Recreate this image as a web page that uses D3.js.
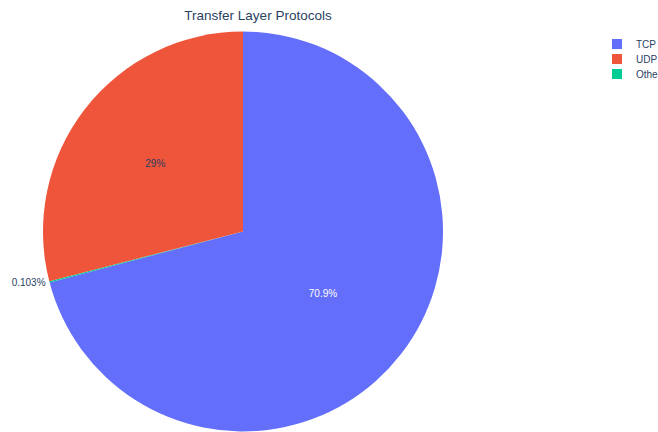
<!DOCTYPE html>
<html>
<head>
<meta charset="utf-8">
<script src="https://cdn.jsdelivr.net/npm/d3@7"></script>
<style>
  html, body { margin: 0; padding: 0; background: #fff; }
  svg { display: block; font-family: "Liberation Sans", Arial, sans-serif; }
</style>
</head>
<body>
<svg id="chart" width="658" height="432"></svg>
<script>
// Share of traffic by transport-layer protocol (percent)
const protocols = ["TCP", "UDP", "Other"];
const shares = [70.9, 29, 0.103];
const colors = ["#636efa", "#EF553B", "#00cc96"];
const titleText = "Transfer Layer Protocols";

const svg = d3.select("#chart");
const W = 658, H = 432;
const cx = 243, cy = 231.5, R = 200;

svg.append("rect").attr("width", W).attr("height", H).attr("fill", "#fff");

const rows = protocols.map((p, i) => ({ name: p, value: shares[i], color: colors[i] }));
const total = d3.sum(shares);
const fmt = d3.format(".3~g");

// Slices run clockwise from 12 o'clock: TCP, Other, UDP
const drawOrder = ["TCP", "Other", "UDP"];
const pie = d3.pie().sort(null).value(d => d.value);
const arcs = pie(drawOrder.map(n => rows.find(r => r.name === n)));
const arc = d3.arc().innerRadius(0).outerRadius(R);

const g = svg.append("g").attr("transform", `translate(${cx},${cy})`);
g.selectAll("path.slice").data(arcs).join("path")
  .attr("class", "slice")
  .attr("d", arc)
  .attr("fill", d => d.data.color);

// Percentage labels
const labelRadius = { TCP: 0.505, UDP: 0.555 };
arcs.forEach(a => {
  const pct = fmt(a.data.value / total * 100) + "%";
  const mid = (a.startAngle + a.endAngle) / 2;
  if (a.data.name === "Other") {
    // thin slice: label sits outside the rim
    const x = Math.sin(mid) * (R + 4);
    const y = -Math.cos(mid) * (R + 4);
    g.append("text")
      .attr("x", x).attr("y", y + 3)
      .attr("text-anchor", "end")
      .attr("font-size", 10)
      .attr("fill", "#2a3f5f")
      .text(pct);
  } else {
    const rr = R * labelRadius[a.data.name];
    g.append("text")
      .attr("x", Math.sin(mid) * rr)
      .attr("y", -Math.cos(mid) * rr + 3.5)
      .attr("text-anchor", "middle")
      .attr("font-size", 10)
      .attr("fill", a.data.name === "TCP" ? "#ffffff" : "#2a3f5f")
      .text(pct);
  }
});

// Title
svg.append("text")
  .attr("x", 258).attr("y", 20)
  .attr("text-anchor", "middle")
  .attr("font-size", 13.5)
  .attr("fill", "#2a3f5f")
  .text(titleText);

// Legend
const legend = svg.append("g").attr("transform", "translate(612,44)");
const item = legend.selectAll("g").data(rows).join("g")
  .attr("transform", (d, i) => `translate(0,${i * 15})`);
item.append("rect")
  .attr("x", 0).attr("y", -5).attr("width", 10).attr("height", 10)
  .attr("fill", d => d.color);
item.append("text")
  .attr("x", 24).attr("y", 3.5)
  .attr("font-size", 10)
  .attr("fill", "#2a3f5f")
  .text(d => d.name);
</script>
</body>
</html>
